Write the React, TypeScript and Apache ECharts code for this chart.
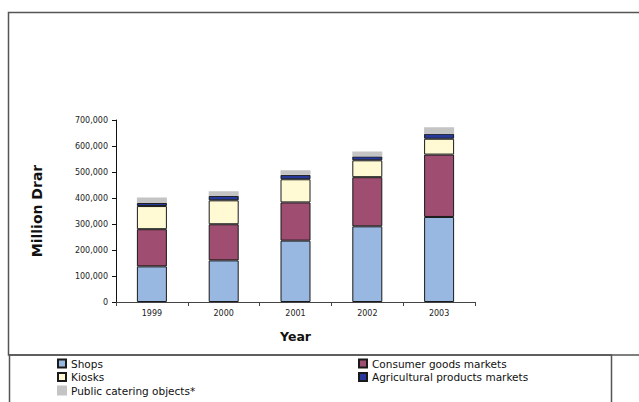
import React, { useEffect, useRef } from "react";
import * as echarts from "echarts";

const years = ["1999", "2000", "2001", "2002", "2003"];
const shops = [137000, 160000, 236000, 291000, 327000];
const consumerMarkets = [143000, 139000, 147000, 189000, 240000];
const kiosks = [89000, 92000, 89000, 65000, 61000];
const agriMarkets = [12000, 17000, 17000, 15000, 19000];
const publicCatering = [21000, 18000, 18000, 19000, 25000];

const FONT = "DejaVu Sans, Liberation Sans, Arial, sans-serif";

export default function App() {
  const ref = useRef<HTMLDivElement>(null);
  useEffect(() => {
    if (!ref.current) return;
    const chart = echarts.init(ref.current, null, { renderer: "svg" });
    const barBase = {
      type: "bar" as const,
      stack: "total",
      barWidth: 30,
      itemStyle: { borderColor: "#1a1a1a", borderWidth: 1 },
    };
    const legendText = { fontSize: 10.5, color: "#111", fontFamily: FONT, padding: [0, 0, 0, 0] };
    chart.setOption({
      animation: false,
      backgroundColor: "#ffffff",
      textStyle: { fontFamily: FONT },
      grid: { left: 116, right: 164, top: 120, bottom: 100, containLabel: false },
      xAxis: {
        type: "category",
        data: years,
        name: "Year",
        nameLocation: "middle",
        nameGap: 28,
        nameTextStyle: { fontSize: 12.5, fontWeight: "bold", color: "#111", fontFamily: FONT },
        axisLine: { lineStyle: { color: "#444", width: 1 } },
        axisTick: { show: true, length: 4, lineStyle: { color: "#444" } },
        axisLabel: { fontSize: 8, color: "#222", margin: 7, fontFamily: FONT },
      },
      yAxis: {
        type: "value",
        min: 0,
        max: 700000,
        interval: 100000,
        name: "Million Drar",
        nameLocation: "middle",
        nameGap: 72,
        nameTextStyle: { fontSize: 14, fontWeight: "bold", color: "#111", fontFamily: FONT },
        axisLine: { show: true, lineStyle: { color: "#111", width: 1 } },
        axisTick: { show: true, length: 4, lineStyle: { color: "#111" } },
        splitLine: { show: false },
        axisLabel: {
          fontSize: 8,
          color: "#222",
          margin: 8,
          fontFamily: FONT,
          formatter: (v: number) => v.toLocaleString("en-US"),
        },
      },
      legend: [
        {
          data: ["Shops", "Kiosks", "Public catering objects*"],
          orient: "vertical",
          left: 57,
          top: 358,
          height: 60,
          padding: 0,
          itemWidth: 8,
          itemHeight: 8,
          itemGap: 2.5,
          icon: "rect",
          textStyle: legendText,
        },
        {
          data: ["Consumer goods markets", "Agricultural products markets"],
          orient: "vertical",
          left: 358,
          top: 358,
          height: 60,
          padding: 0,
          itemWidth: 8,
          itemHeight: 8,
          itemGap: 2.5,
          icon: "rect",
          textStyle: legendText,
        },
      ],
      graphic: [
        {
          type: "rect",
          silent: true,
          shape: { x: 8.5, y: 12.5, width: 700, height: 342.5 },
          style: { fill: "none", stroke: "#555", lineWidth: 1.5 },
        },
        {
          type: "rect",
          silent: true,
          shape: { x: 9.5, y: 355, width: 602, height: 80 },
          style: { fill: "none", stroke: "#555", lineWidth: 1.5 },
        },
      ],
      series: [
        { ...barBase, name: "Shops", data: shops, itemStyle: { ...barBase.itemStyle, color: "#99B8E1" } },
        { ...barBase, name: "Consumer goods markets", data: consumerMarkets, itemStyle: { ...barBase.itemStyle, color: "#9F4D71" } },
        { ...barBase, name: "Kiosks", data: kiosks, itemStyle: { ...barBase.itemStyle, color: "#FFFAD4" } },
        { ...barBase, name: "Agricultural products markets", data: agriMarkets, itemStyle: { ...barBase.itemStyle, color: "#27399B" } },
        {
          ...barBase,
          name: "Public catering objects*",
          data: publicCatering,
          itemStyle: { color: "#C4C4C4", borderColor: "#C4C4C4", borderWidth: 1.5 },
        },
      ],
    });
    return () => chart.dispose();
  }, []);
  return (
    <div
      ref={ref}
      style={{ position: "fixed", left: 0, top: 0, width: 639, height: 402 }}
    />
  );
}
